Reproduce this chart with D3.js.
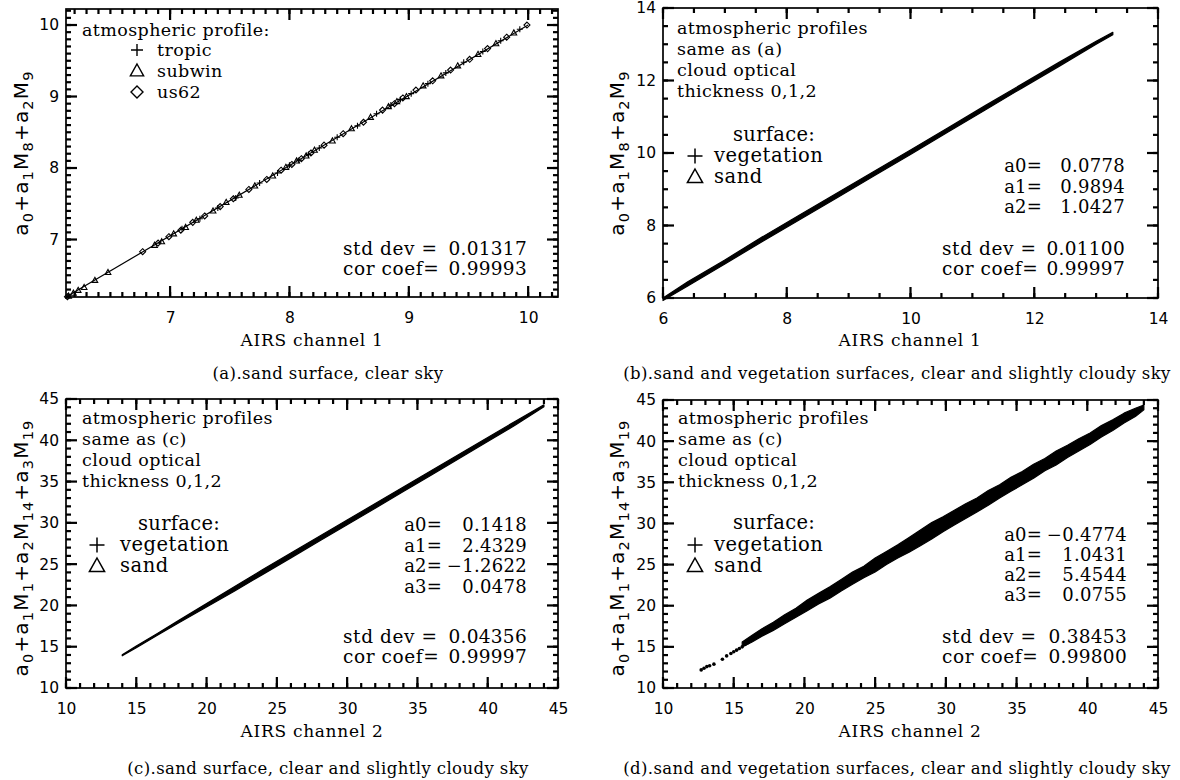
<!DOCTYPE html>
<html>
<head>
<meta charset="utf-8">
<script src="https://cdn.jsdelivr.net/npm/d3@7"></script>
<style>
  body { margin: 0; background: #fff; }
</style>
</head>
<body>
<div id="chart"></div>
<script>
// ---------- data ----------

// (a) clear sky, three atmospheric profiles: [AIRS ch1, fitted value]
const tropicPts = [
  [7.10, 7.15], [7.25, 7.29], [7.40, 7.44], [7.55, 7.58], [7.75, 7.79], [7.90, 7.93],
  [8.00, 8.04], [8.08, 8.11], [8.16, 8.19], [8.25, 8.28], [8.40, 8.43], [8.57, 8.59],
  [8.73, 8.76], [8.85, 8.88], [8.93, 8.96], [9.02, 9.04], [9.16, 9.18], [9.31, 9.33],
  [9.46, 9.48], [9.62, 9.63], [9.77, 9.78], [9.93, 9.94]
];
const subwinPts = [
  [6.15, 6.21], [6.19, 6.25], [6.23, 6.29], [6.28, 6.33], [6.37, 6.43], [6.48, 6.54],
  [6.87, 6.92], [6.93, 6.97], [7.03, 7.08], [7.13, 7.17], [7.22, 7.27], [7.36, 7.40],
  [7.47, 7.52], [7.58, 7.62], [7.71, 7.75], [7.86, 7.89], [7.97, 8.01], [8.06, 8.10],
  [8.14, 8.17], [8.21, 8.25], [8.36, 8.38], [8.52, 8.55], [8.68, 8.71], [8.83, 8.86],
  [8.90, 8.93], [8.98, 9.00], [9.12, 9.15], [9.27, 9.29], [9.41, 9.43], [9.58, 9.59],
  [9.73, 9.74], [9.88, 9.89]
];
const us62Pts = [
  [6.14, 6.20], [6.77, 6.83], [6.90, 6.95], [6.99, 7.04], [7.09, 7.13], [7.19, 7.24],
  [7.29, 7.33], [7.42, 7.46], [7.53, 7.57], [7.66, 7.70], [7.81, 7.84], [7.93, 7.97],
  [8.02, 8.05], [8.10, 8.13], [8.18, 8.21], [8.29, 8.32], [8.45, 8.48], [8.62, 8.64],
  [8.78, 8.81], [8.88, 8.90], [8.95, 8.98], [9.06, 9.09], [9.20, 9.22], [9.35, 9.37],
  [9.51, 9.52], [9.66, 9.67], [9.82, 9.83], [9.99, 10.0]
];
const fitLineA = [[6.128, 6.196], [10.0, 10.0]];

// (b) dense band: x, lower edge, upper edge
const bandBX  = [6.00, 6.40, 7.00, 7.60, 8.20, 8.80, 9.40, 10.00, 10.60, 11.20, 11.80, 12.40, 13.00, 13.27];
const bandBLo = [5.93, 6.33, 6.94, 7.55, 8.15, 8.75, 9.36, 9.96, 10.57, 11.18, 11.79, 12.39, 13.00, 13.26];
const bandBHi = [6.00, 6.45, 7.05, 7.68, 8.28, 8.88, 9.48, 10.08, 10.69, 11.30, 11.90, 12.50, 13.08, 13.33];

// (c)
const bandCX  = [14.0, 15.0, 16.5, 18.0, 20.0, 22.0, 24.0, 26.0, 28.0, 30.0, 32.0, 34.0, 36.0, 38.0, 40.0, 42.0, 44.0];
const bandCLo = [13.9, 14.88, 16.38, 17.86, 19.82, 21.76, 23.76, 25.76, 27.76, 29.76, 31.76, 33.8, 35.8, 37.82, 39.85, 41.88, 44.05];
const bandCHi = [14.02, 15.08, 16.6, 18.16, 20.22, 22.28, 24.34, 26.34, 28.34, 30.34, 32.34, 34.34, 36.34, 38.34, 40.34, 42.34, 44.3];

// (d)
const bandDX  = [15.6, 16.3, 17.0, 17.8, 18.6, 19.4, 20.2, 21.0, 21.8, 22.6, 23.4, 24.2, 25.0, 25.8, 26.6, 27.4, 28.2, 29.0, 29.8,
                 30.6, 31.4, 32.2, 33.0, 33.8, 34.6, 35.4, 36.2, 37.0, 37.8, 38.6, 39.4, 40.2, 41.0, 41.8, 42.6, 43.4, 44.0];
const bandDLo = [15.0, 15.6, 16.3, 17.0, 17.8, 18.6, 19.4, 20.2, 20.9, 21.8, 22.6, 23.4, 24.1, 25.0, 25.8, 26.5, 27.3, 28.1, 29.0,
                 29.8, 30.6, 31.4, 32.2, 33.1, 33.9, 34.7, 35.5, 36.4, 37.1, 38.0, 38.8, 39.6, 40.5, 41.3, 42.2, 43.0, 43.8];
const bandDHi = [15.6, 16.4, 17.2, 18.0, 18.9, 19.7, 20.7, 21.5, 22.3, 23.2, 24.1, 24.8, 25.8, 26.6, 27.4, 28.3, 29.2, 30.1, 30.8,
                 31.6, 32.4, 33.1, 34.0, 34.7, 35.6, 36.3, 37.2, 37.9, 38.8, 39.5, 40.3, 41.0, 41.9, 42.6, 43.4, 44.0, 44.4];
const dotsD = [
  [12.7, 12.2], [12.9, 12.4], [13.1, 12.6], [13.3, 12.7], [13.6, 12.9], [14.2, 13.5], [14.5, 13.9],
  [14.8, 14.2], [15.0, 14.4], [15.2, 14.6], [15.4, 14.8], [15.6, 15.0], [15.8, 15.3], [16.0, 15.5]
];

// axes
const aXDomain = [6.128, 10.25];
const aYDomain = [6.196, 10.224];
const aTicks = [7, 8, 9, 10];
const bDomain = [6, 14];
const bTicks = [6, 8, 10, 12, 14];
const cdDomain = [10, 45];
const cdTicks = [10, 15, 20, 25, 30, 35, 40, 45];

// texts
const titleA = [["a", 0], ["0", 1], ["+a", 0], ["1", 1], ["M", 0], ["8", 1], ["+a", 0], ["2", 1], ["M", 0], ["9", 1]];
const titleC = [["a", 0], ["0", 1], ["+a", 0], ["1", 1], ["M", 0], ["1", 1], ["+a", 0], ["2", 1], ["M", 0], ["14", 1],
                ["+a", 0], ["3", 1], ["M", 0], ["19", 1]];
const xTitle1 = "AIRS channel 1";
const xTitle2 = "AIRS channel 2";
const captions = [
  "(a).sand surface, clear sky",
  "(b).sand and vegetation surfaces, clear and slightly cloudy sky",
  "(c).sand surface, clear and slightly cloudy sky",
  "(d).sand and vegetation surfaces, clear and slightly cloudy sky"
];
const profileLegend = ["tropic", "subwin", "us62"];
const noteB = ["atmospheric profiles", "same as (a)", "cloud optical", "thickness 0,1,2"];
const noteCD = ["atmospheric profiles", "same as (c)", "cloud optical", "thickness 0,1,2"];
const surfaceLegend = ["vegetation", "sand"];
const coefNames3 = ["a0=", "a1=", "a2="];
const coefNames4 = ["a0=", "a1=", "a2=", "a3="];
const coefB = ["0.0778", "0.9894", "1.0427"];
const coefC = ["0.1418", "2.4329", "\u22121.2622", "0.0478"];
const coefD = ["\u22120.4774", "1.0431", "5.4544", "0.0755"];
const statNames = ["std dev =", "cor coef="];
const statsA = ["0.01317", "0.99993"];
const statsB = ["0.01100", "0.99997"];
const statsC = ["0.04356", "0.99997"];
const statsD = ["0.38453", "0.99800"];

// ---------- drawing ----------
const serif = "'DejaVu Serif', serif";
const sans = "'DejaVu Sans', sans-serif";

const svg = d3.select("#chart").append("svg")
  .attr("width", 1180)
  .attr("height", 780);

const frames = [];

function framePanel(box, xDomain, yDomain, xMajor, xMinor, yMajor, yMinor) {
  const x = d3.scaleLinear().domain(xDomain).range([box.left, box.right]);
  const y = d3.scaleLinear().domain(yDomain).range([box.bottom, box.top]);
  const g = svg.append("g");

  // tick labels from d3 axes
  const xa = g.append("g").attr("transform", `translate(0,${box.bottom})`)
    .call(d3.axisBottom(x).tickValues(xMajor).tickSize(0).tickPadding(15).tickFormat(d3.format("d")));
  const ya = g.append("g").attr("transform", `translate(${box.left},0)`)
    .call(d3.axisLeft(y).tickValues(yMajor).tickSize(0).tickPadding(7).tickFormat(d3.format("d")));
  [xa, ya].forEach(a => {
    a.select(".domain").remove();
    a.attr("font-family", sans).attr("font-size", 15.5).attr("color", "#000");
  });

  frames.push({ x, y, box, xMajor, xMinor, yMajor, yMinor });
  return { x, y, g };
}

// frame plus inward tick marks (small filled bars) on all four sides, drawn last
function drawFrames() {
  const w = 2.2;
  frames.forEach(f => {
    const { x, y, box } = f;
    const g = svg.append("g").attr("fill", "#000");
    [[f.xMinor, 5], [f.xMajor, 11]].forEach(([vals, len]) => {
      g.selectAll(null).data(vals).enter().append("rect")
        .attr("x", d => x(d) - w / 2).attr("y", box.bottom - len)
        .attr("width", w).attr("height", len);
      g.selectAll(null).data(vals).enter().append("rect")
        .attr("x", d => x(d) - w / 2).attr("y", box.top)
        .attr("width", w).attr("height", len);
    });
    [[f.yMinor, 5], [f.yMajor, 11]].forEach(([vals, len]) => {
      g.selectAll(null).data(vals).enter().append("rect")
        .attr("x", box.left).attr("y", d => y(d) - w / 2)
        .attr("width", len).attr("height", w);
      g.selectAll(null).data(vals).enter().append("rect")
        .attr("x", box.right - len).attr("y", d => y(d) - w / 2)
        .attr("width", len).attr("height", w);
    });
    svg.append("rect")
      .attr("x", box.left).attr("y", box.top)
      .attr("width", box.right - box.left).attr("height", box.bottom - box.top)
      .attr("fill", "none").attr("stroke", "#000").attr("stroke-width", 1.7);
  });
}

function text(x, y, s, size, anchor, extra) {
  const t = svg.append("text")
    .attr("x", x).attr("y", y)
    .attr("font-family", serif)
    .attr("font-size", size)
    .attr("text-anchor", anchor || "start")
    .attr("fill", "#000")
    .text(s);
  if (extra) t.attr("letter-spacing", extra);
  return t;
}

function yTitle(cx, cy, parts) {
  const t = svg.append("text")
    .attr("transform", `translate(${cx},${cy}) rotate(-90)`)
    .attr("text-anchor", "middle")
    .attr("font-family", sans)
    .attr("font-size", 20)
    .attr("letter-spacing", 1.2)
    .attr("fill", "#000");
  let shifted = false;
  parts.forEach(([s, sub]) => {
    const ts = t.append("tspan").text(s);
    if (sub && !shifted) { ts.attr("dy", 5).attr("font-size", 14.5); shifted = true; }
    else if (sub) { ts.attr("font-size", 14.5); }
    else if (shifted) { ts.attr("dy", -5); shifted = false; }
  });
}

const plusPath = s => `M${-s},0H${s}M0,${-s}V${s}`;
const triPath = s => `M0,${-s}L${s * 0.95},${s * 0.7}L${-s * 0.95},${s * 0.7}Z`;
const diaPath = s => `M0,${-s}L${s},0L0,${s}L${-s},0Z`;

function symbol(x, y, d, sw) {
  svg.append("path")
    .attr("transform", `translate(${x},${y})`)
    .attr("d", d)
    .attr("fill", "none").attr("stroke", "#000").attr("stroke-width", sw || 1.3);
}

function band(p, xs, lo, hi) {
  const area = d3.area()
    .x(d => p.x(d[0])).y0(d => p.y(d[1])).y1(d => p.y(d[2]));
  p.g.append("path")
    .datum(d3.zip(xs, lo, hi))
    .attr("d", area)
    .attr("fill", "#000")
    .attr("stroke", "#000")
    .attr("stroke-width", 1.2)
    .attr("stroke-linejoin", "round");
}

function coefBlock(names, values, labelEnd, valueEnd, y0, step) {
  names.forEach((s, i) => {
    text(labelEnd, y0 + i * step, s, 18, "end", 0.2);
    text(valueEnd, y0 + i * step, values[i], 18, "end", 0.3);
  });
}

function statBlock(values, labelStart, valueEnd, y0) {
  statNames.forEach((s, i) => {
    text(labelStart, y0 + i * 20, s, 18.5, "start", 0.6);
    text(valueEnd, y0 + i * 20, values[i], 18.5, "end", 0.3);
  });
}

// ---- panel (a)
const boxA = { left: 66, right: 558, top: 9, bottom: 297 };
const minorA = d3.range(62, 103).map(v => v / 10);
const pA = framePanel(boxA, aXDomain, aYDomain, aTicks, minorA, aTicks, minorA);
pA.g.append("path")
  .datum(fitLineA)
  .attr("d", d3.line().x(d => pA.x(d[0])).y(d => pA.y(d[1])))
  .attr("fill", "none").attr("stroke", "#000").attr("stroke-width", 1.2);
[[tropicPts, plusPath], [subwinPts, triPath], [us62Pts, diaPath]].forEach(([pts, shape]) => {
  pA.g.selectAll(null).data(pts).enter().append("path")
    .attr("transform", d => `translate(${pA.x(d[0])},${pA.y(d[1])})`)
    .attr("d", shape(3))
    .attr("fill", "none").attr("stroke", "#000").attr("stroke-width", 1.1);
});
text(82, 36, "atmospheric profile:", 17.5, "start", 0.4);
[plusPath(6), triPath(7), diaPath(6)].forEach((d, i) => {
  symbol(137, 50 + i * 21, d, 1.4);
  text(157, 56 + i * 21, profileLegend[i], 17.5, "start", 0.4);
});
statBlock(statsA, 343, 527, 255);
yTitle(28, 153, titleA);
text(312, 346, xTitle1, 17, "middle", 0.7);
text(328, 379, captions[0], 16.5, "middle", 0.4);

// ---- panel (b)
const boxB = { left: 663, right: 1158, top: 8, bottom: 298 };
const minorB = d3.range(12, 29).map(v => v / 2);
const pB = framePanel(boxB, bDomain, bDomain, bTicks, minorB, bTicks, minorB);
band(pB, bandBX, bandBLo, bandBHi);
noteB.forEach((s, i) => text(677, 34 + i * 21, s, 17.5, "start", 0.4));
text(733, 141, "surface:", 19.5, "start", 0.3);
symbol(695, 156, plusPath(7.5), 1.5);
symbol(695, 177, triPath(8), 1.5);
surfaceLegend.forEach((s, i) => text(714, 162 + i * 21, s, 19.5, "start", 0.5));
coefBlock(coefNames3, coefB, 1042, 1125, 172, 20.5);
statBlock(statsB, 942, 1125, 255);
yTitle(624, 153, titleA);
text(910, 346, xTitle1, 17, "middle", 0.7);
text(897, 379, captions[1], 16.5, "middle", 0.4);

// ---- panel (c)
const boxC = { left: 66, right: 558, top: 399, bottom: 688 };
const minorCD = d3.range(10, 46);
const pC = framePanel(boxC, cdDomain, cdDomain, cdTicks, minorCD, cdTicks, minorCD);
band(pC, bandCX, bandCLo, bandCHi);
noteCD.forEach((s, i) => text(82, 424 + i * 21, s, 17.5, "start", 0.4));
text(138, 530, "surface:", 19.5, "start", 0.3);
symbol(97, 545, plusPath(7.5), 1.5);
symbol(97, 566, triPath(8), 1.5);
surfaceLegend.forEach((s, i) => text(120, 551 + i * 21, s, 19.5, "start", 0.5));
coefBlock(coefNames4, coefC, 442, 527, 531, 20.5);
statBlock(statsC, 343, 527, 643);
yTitle(28, 548, titleC);
text(312, 737, xTitle2, 17, "middle", 0.7);
text(328, 774, captions[2], 16.5, "middle", 0.4);

// ---- panel (d)
const boxD = { left: 663, right: 1158, top: 400, bottom: 688 };
const pD = framePanel(boxD, cdDomain, cdDomain, cdTicks, minorCD, cdTicks, minorCD);
band(pD, bandDX, bandDLo, bandDHi);
pD.g.selectAll(null).data(dotsD).enter().append("circle")
  .attr("cx", d => pD.x(d[0])).attr("cy", d => pD.y(d[1]))
  .attr("r", 1.8).attr("fill", "#000");
noteCD.forEach((s, i) => text(678, 424 + i * 21, s, 17.5, "start", 0.4));
text(733, 529, "surface:", 19.5, "start", 0.3);
symbol(695, 545, plusPath(7.5), 1.5);
symbol(695, 566, triPath(8), 1.5);
surfaceLegend.forEach((s, i) => text(714, 551 + i * 21, s, 19.5, "start", 0.5));
coefBlock(coefNames4, coefD, 1042, 1127, 541, 20);
statBlock(statsD, 942, 1127, 643);
yTitle(624, 548, titleC);
text(910, 737, xTitle2, 17, "middle", 0.7);
text(897, 774, captions[3], 16.5, "middle", 0.4);

drawFrames();
</script>
</body>
</html>
